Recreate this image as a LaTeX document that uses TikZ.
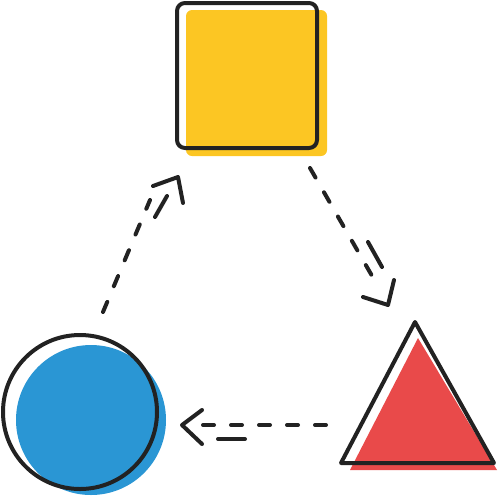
\documentclass[tikz,border=0pt]{standalone}
\definecolor{sqyellow}{HTML}{FCC623}
\definecolor{cblue}{HTML}{2A96D4}
\definecolor{tred}{HTML}{E94A4A}
\definecolor{ink}{HTML}{222222}
\begin{document}
\begin{tikzpicture}[x=1pt,y=-1pt,
  outline/.style={draw=ink,line width=4pt,line join=round},
  dashline/.style={draw=ink,line width=4pt,line cap=round,dash pattern=on 11pt off 17pt},
  headline/.style={draw=ink,line width=4pt,line cap=round,line join=round},
  extra/.style={draw=ink,line width=4pt,line cap=round}]
\useasboundingbox (0,0) rectangle (500,499);
% square
\fill[sqyellow, rounded corners=6pt] (186,10) rectangle (327,156);
\node[outline, rounded corners=8pt, minimum width=140pt, minimum height=145pt, inner sep=0pt] (sq) at (247,75.5) {};
% circle
\fill[cblue] (91,420) circle (75);
\node[outline, circle, minimum size=154pt, inner sep=0pt] (circ) at (80,412) {};
% triangle
\fill[tred] (418,338) -- (497,470) -- (350,470) -- cycle;
\coordinate (tA) at (415,322);
\coordinate (tB) at (494,463);
\coordinate (tC) at (341,463);
\draw[outline] (tA) -- (tB) -- (tC) -- cycle;
% arrow circle -> square
\coordinate (a1s) at (103,312);
\coordinate (a1e) at (150,200);
\coordinate (a1p1) at (155,217);
\coordinate (a1p2) at (167,196);
\coordinate (a1l) at (153,186);
\coordinate (a1t) at (178,177);
\coordinate (a1r) at (183,203);
\draw[dashline] (a1s) -- (a1e);
\draw[extra] (a1p1) -- (a1p2);
\draw[headline] (a1l) -- (a1t) -- (a1r);
% arrow square -> triangle
\coordinate (a2s) at (310,168);
\coordinate (a2e) at (379,288);
\coordinate (a2p1) at (368,242);
\coordinate (a2p2) at (382,267);
\coordinate (a2l) at (363,297);
\coordinate (a2t) at (388,305);
\coordinate (a2r) at (394,280);
\draw[dashline] (a2s) -- (a2e);
\draw[extra] (a2p1) -- (a2p2);
\draw[headline] (a2l) -- (a2t) -- (a2r);
% arrow triangle -> circle
\coordinate (a3s) at (326,425);
\coordinate (a3e) at (200,425);
\coordinate (a3p1) at (218,439);
\coordinate (a3p2) at (245,439);
\coordinate (a3l) at (202,410);
\coordinate (a3t) at (182,425);
\coordinate (a3r) at (202,444);
\draw[dashline] (a3s) -- (a3e);
\draw[extra] (a3p1) -- (a3p2);
\draw[headline] (a3l) -- (a3t) -- (a3r);
\end{tikzpicture}
\end{document}
